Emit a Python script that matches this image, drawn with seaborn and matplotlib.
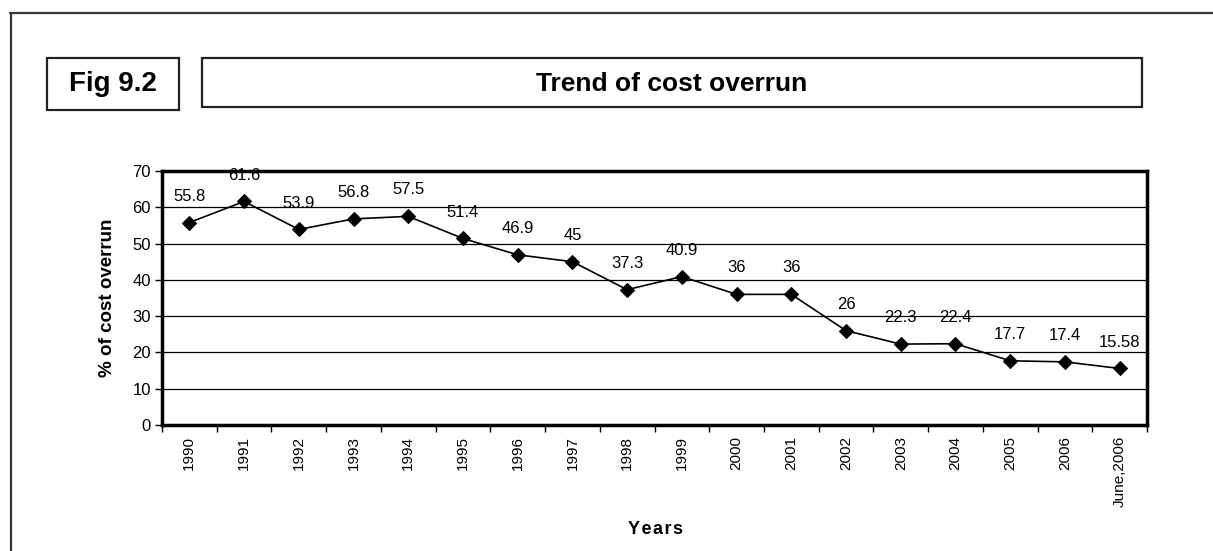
import matplotlib
matplotlib.use("Agg")
import matplotlib.pyplot as plt
from matplotlib.patches import Rectangle
from matplotlib.lines import Line2D
import seaborn as sns
import pandas as pd

years = ["1990", "1991", "1992", "1993", "1994", "1995", "1996", "1997", "1998",
         "1999", "2000", "2001", "2002", "2003", "2004", "2005", "2006", "June,2006"]
pct = [55.8, 61.6, 53.9, 56.8, 57.5, 51.4, 46.9, 45, 37.3, 40.9, 36, 36, 26,
       22.3, 22.4, 17.7, 17.4, 15.58]
value_labels = ["55.8", "61.6", "53.9", "56.8", "57.5", "51.4", "46.9", "45", "37.3",
                "40.9", "36", "36", "26", "22.3", "22.4", "17.7", "17.4", "15.58"]
y_ticks = [0, 10, 20, 30, 40, 50, 60, 70]

sns.set_theme(style="white")
plt.rcParams['font.family'] = ['Liberation Sans', 'DejaVu Sans']
plt.rcParams['text.color'] = 'black'
plt.rcParams['axes.labelcolor'] = 'black'
plt.rcParams['xtick.color'] = 'black'
plt.rcParams['ytick.color'] = 'black'

W, H = 1213, 551
fig = plt.figure(figsize=(W / 100, H / 100), dpi=100)
fig.patch.set_facecolor("white")

def fx(px):
    return px / W

def fy(py):
    return 1 - py / H

ax = fig.add_axes([fx(162), fy(425), fx(1147) - fx(162), fy(171) - fy(425)])

df = pd.DataFrame({"year": years, "pct": pct})
sns.lineplot(data=df, x="year", y="pct", sort=False, color="black", linewidth=1.2,
             marker="D", markersize=7, markeredgecolor="black",
             markerfacecolor="black", ax=ax)

n = len(years)
ax.set_xlim(-0.5, n - 0.5)
ax.set_ylim(0, 70)
ax.set_yticks(y_ticks)
ax.set_yticklabels([str(t) for t in y_ticks], fontsize=12, color="black")
ax.set_xticks(range(n))
ax.set_xticklabels(years, rotation=90, fontsize=11, va="top", ha="center", color="black")
ax.set_xticks([i - 0.5 for i in range(n + 1)], minor=True)
ax.tick_params(axis="x", which="major", length=0, pad=8)
ax.tick_params(axis="x", which="minor", length=5, width=1, color="black", direction="out", bottom=True)
ax.tick_params(axis="y", which="major", length=5, width=1, color="black", direction="out", left=True, pad=3)

for yv in y_ticks[1:-1]:
    ax.axhline(yv, color="black", linewidth=0.9, zorder=0)

for s in ax.spines.values():
    s.set_color("black")
    s.set_linewidth(2.5)
    s.set_visible(True)

for i, (v, lab) in enumerate(zip(pct, value_labels)):
    ax.annotate(lab, xy=(i, v), xytext=(0, 19), textcoords="offset points",
                ha="center", va="center", fontsize=12, color="black",
                annotation_clip=False, zorder=5)

ax.set_ylabel("% of cost overrun", fontsize=13.5, fontweight="bold", labelpad=12, color="black")
ax.set_xlabel("")
fig.text(fx(656), fy(529), "\u200a".join("Years"),
         ha="center", va="center", fontsize=13, fontweight="bold", color="black")

# outer frame lines
fig.add_artist(Line2D([fx(10), fx(1213)], [fy(13), fy(13)], color="#333333", linewidth=1.6))
fig.add_artist(Line2D([fx(11), fx(11)], [fy(13), fy(551)], color="#333333", linewidth=1.6))

# Fig box
fig.add_artist(Rectangle((fx(47), fy(110)), fx(179) - fx(47), fy(58) - fy(110),
                         fill=False, edgecolor="#222222", linewidth=1.6))
fig.text(fx(113), fy(84), "Fig 9.2", ha="center", va="center", fontsize=20,
         fontweight="bold", color="black")

# Title box
fig.add_artist(Rectangle((fx(202), fy(107)), fx(1142) - fx(202), fy(58) - fy(107),
                         fill=False, edgecolor="#222222", linewidth=1.6))
fig.text(fx(672), fy(84), "Trend of cost overrun", ha="center", va="center",
         fontsize=19, fontweight="bold", color="black")

fig.savefig("out.png", dpi=100, facecolor="white")
